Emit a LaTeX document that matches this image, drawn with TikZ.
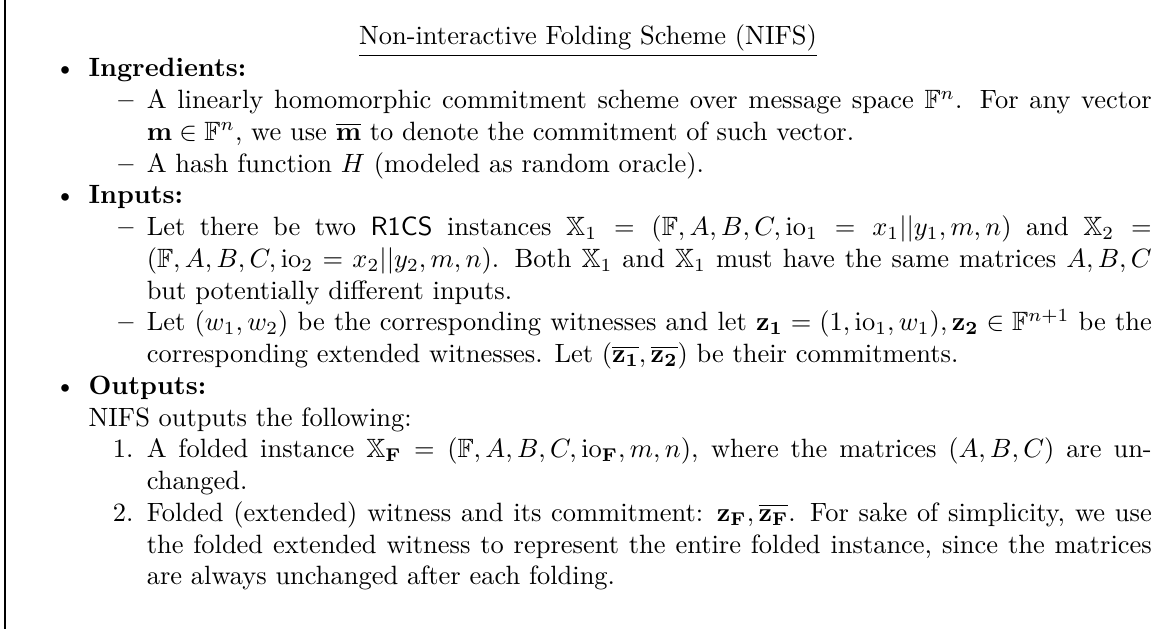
\documentclass[tikz,border=0pt]{standalone}
\usepackage{amsmath,amssymb}
\usepackage{enumitem}

\begin{document}
\begin{tikzpicture}[x=1pt, y=1pt]
    % sheet is 442pt x 237.8pt; only the left side of the frame is in view.
    \useasboundingbox (0,0) rectangle (442,237.8);
    \draw[line width=0.6pt] (1.9,0) -- (1.9,237.8);

    \node[anchor=base, inner sep=0pt] (title) at (222.3,220.8)
        {\underline{Non-interactive Folding Scheme (NIFS)}};

    \node[anchor=base west, inner sep=0pt] (body) at (8.3,208.7) {%
    \begin{minipage}[t]{427pt}
    \begin{itemize}[nosep]
      \item \textbf{Ingredients:}
      \begin{itemize}[nosep]
        \item A linearly homomorphic commitment scheme over message space $\mathbb{F}^n$. For any vector $\mathbf{m}\in\mathbb{F}^n$, we use $\overline{\mathbf{m}}$ to denote the commitment of such vector.
        \item A hash function $H$ (modeled as random oracle).
      \end{itemize}
      \item \textbf{Inputs:}
      \begin{itemize}[nosep]
        \item Let there be two \textsf{R1CS} instances $\mathbb{X}_1 = (\mathbb{F}, A, B, C, \mathrm{io}_1 = x_1||y_1, m, n)$ and $\mathbb{X}_2 = (\mathbb{F}, A, B, C, \mathrm{io}_2 = x_2||y_2, m, n)$. Both $\mathbb{X}_1$ and $\mathbb{X}_1$ must have the same matrices $A, B, C$ but potentially different inputs.
        \item Let $(w_1, w_2)$ be the corresponding witnesses and let $\mathbf{z_1} = (1, \mathrm{io}_1, w_1), \mathbf{z_2} \in \mathbb{F}^{n+1}$ be the corresponding extended witnesses. Let $(\overline{\mathbf{z_1}}, \overline{\mathbf{z_2}})$ be their commitments.
      \end{itemize}
      \item \textbf{Outputs:}\newline
      NIFS outputs the following:
      \begin{enumerate}[nosep]
        \item A folded instance $\mathbb{X}_{\mathbf{F}} = (\mathbb{F}, A, B, C, \mathrm{io}_{\mathbf{F}}, m, n)$, where the matrices $(A, B, C)$ are unchanged.
        \item Folded (extended) witness and its commitment: $\mathbf{z_F}, \overline{\mathbf{z_F}}$. For sake of simplicity, we use the folded extended witness to represent the entire folded instance, since the matrices are always unchanged after each folding.
      \end{enumerate}
    \end{itemize}
    \end{minipage}};
\end{tikzpicture}
\end{document}
